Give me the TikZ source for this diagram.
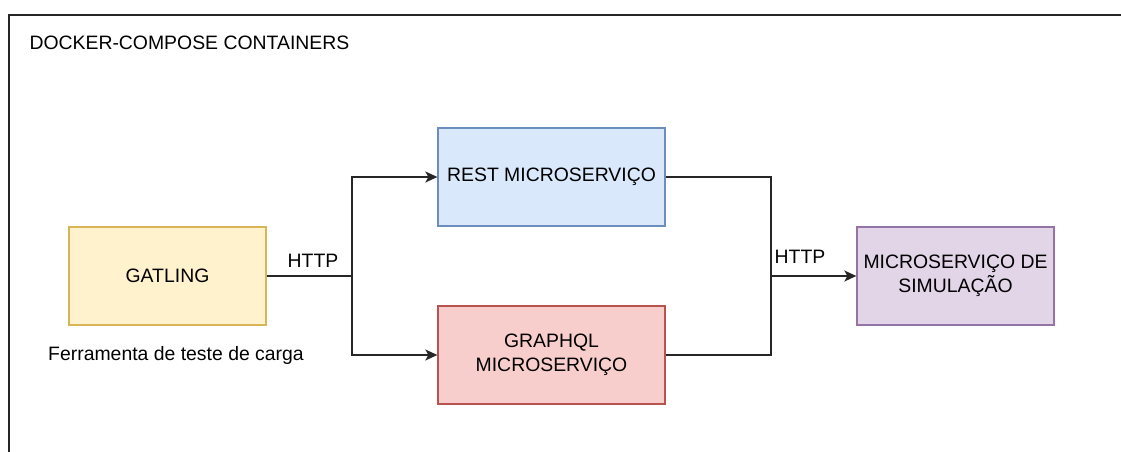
\documentclass[tikz,border=0pt]{standalone}
\usepackage{fontspec}
\setmainfont{Liberation Sans}
\usetikzlibrary{arrows.meta}

\definecolor{gatfill}{HTML}{FFF2CC}
\definecolor{gatline}{HTML}{D6B656}
\definecolor{restfill}{HTML}{DAE8FC}
\definecolor{restline}{HTML}{6C8EBF}
\definecolor{gqlfill}{HTML}{F8CECC}
\definecolor{gqlline}{HTML}{B85450}
\definecolor{simfill}{HTML}{E1D5E7}
\definecolor{simline}{HTML}{9673A6}

\tikzset{
  svcbox/.style={draw, rectangle, line width=1.3pt, minimum height=98pt, inner sep=2pt, align=center},
  link/.style={line width=1.4pt, draw=black!85},
  arrowlink/.style={link, -{Stealth[length=12pt, width=11pt, inset=3pt]}}
}

\begin{document}
\begin{tikzpicture}[x=1pt, y=-1pt, font=\fontsize{19.4}{24.5}\selectfont]
\useasboundingbox (0,0) rectangle (1121,452);
\draw[line width=2pt, black!85] (1121,15) -- (9,15) -- (9,452);
\node[anchor=west] (title) at (26,43) {DOCKER-COMPOSE CONTAINERS};

\node[svcbox, fill=gatfill, draw=gatline, minimum width=197pt] (gatling) at (167.5,276) {GATLING};
\node[svcbox, fill=restfill, draw=restline, minimum width=227pt] (rest) at (551.5,177) {REST MICROSERVIÇO};
\node[svcbox, fill=gqlfill, draw=gqlline, minimum width=227pt] (graphql) at (551.5,355) {GRAPHQL\\MICROSERVIÇO};
\node[svcbox, fill=simfill, draw=simline, minimum width=197pt] (sim) at (955.5,276) {MICROSERVIÇO DE\\SIMULAÇÃO};

\coordinate (split) at (352,276);
\coordinate (join) at (771,276);

\draw[link] (gatling.east) -- (split);
\draw[arrowlink] (split) |- (rest.west);
\draw[arrowlink] (split) |- (graphql.west);
\draw[link] (rest.east) -| (join);
\draw[link] (graphql.east) -| (join);
\draw[arrowlink] (join) -- (sim.west);

\node (http1) at (313,261) {HTTP};
\node (http2) at (800,257) {HTTP};
\node (tool) at (176,355) {Ferramenta de teste de carga};
\end{tikzpicture}
\end{document}
